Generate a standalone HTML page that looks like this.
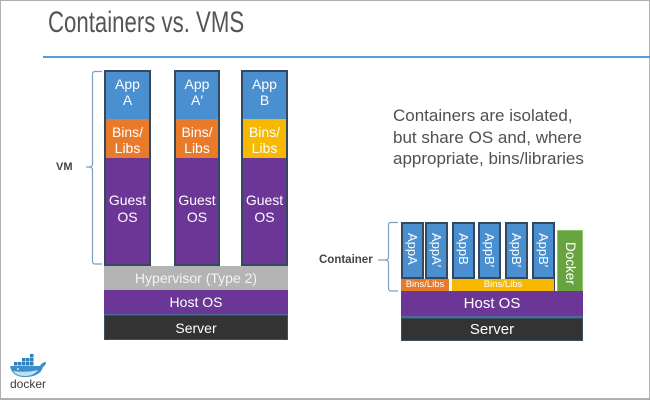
<!DOCTYPE html>
<html>
<head>
<meta charset="utf-8">
<style>
  html,body{margin:0;padding:0;}
  body{width:650px;height:400px;position:relative;overflow:hidden;background:#fff;font-family:"Liberation Sans",sans-serif;}
  .frame{position:absolute;left:0;top:0;width:650px;height:400px;box-sizing:border-box;border:1px solid #b0b0b0;border-bottom:2px solid #b0b0b0;}
  .abs{position:absolute;}
  .title{position:absolute;left:48px;top:8px;font-size:30px;line-height:30px;color:#555;white-space:nowrap;transform:scaleX(0.74);transform-origin:0 0;}
  .rule{position:absolute;left:43px;top:56px;width:607px;height:2px;background:#5b9bd5;}
  .col{position:absolute;top:70px;height:196px;box-sizing:border-box;border:2px solid #34495e;background:#6b3695;}
  .seg{position:absolute;left:0;right:0;}
  .blue{background:#4a90d0;}
  .orange{background:#e87a2a;}
  .yellow{background:#f6b800;}
  .purple{background:#6b3695;}
  .lbl{position:absolute;color:#fff;font-size:14px;line-height:16px;text-align:center;white-space:nowrap;}
  .bar{position:absolute;color:#fff;font-size:14px;text-align:center;white-space:nowrap;box-sizing:border-box;}
  .para{position:absolute;left:393px;top:105px;font-size:17px;line-height:21.5px;color:#505050;white-space:nowrap;}
  .app{position:absolute;top:222px;height:57px;width:23px;box-sizing:border-box;border:2px solid #34495e;background:#4a90d0;}
  .vt{position:absolute;writing-mode:vertical-rl;color:#fff;font-size:13px;line-height:13px;white-space:nowrap;}
  .side{position:absolute;font-weight:bold;color:#444;white-space:nowrap;}
</style>
</head>
<body>
<div class="frame"></div>

<div class="title">Containers vs. VMS</div>
<div class="rule"></div>

<!-- VM bracket -->
<svg class="abs" style="left:0;top:0" width="650" height="400">
  <path d="M102,71.5 H95 Q92.5,71.5 92.5,74 V164 Q92.5,167 89,167 H86 M89,167 Q92.5,167 92.5,170 V261 Q92.5,264 95,264 H102" fill="none" stroke="#7f9fbf" stroke-width="1.2"/>
  <path d="M398,222.5 H391 Q388.5,222.5 388.5,225 V257 Q388.5,260 385,260 H378 M385,260 Q388.5,260 388.5,263 V288 Q388.5,291 391,291 H398" fill="none" stroke="#7f9fbf" stroke-width="1.2"/>
</svg>
<div class="side" style="left:56px;top:160px;font-size:11px;line-height:14px;">VM</div>
<div class="side" style="left:319px;top:253px;font-size:11.5px;line-height:14px;">Container</div>

<!-- VM columns -->
<div class="col" style="left:104px;width:47px;">
  <div class="seg blue" style="top:0;height:47px;"></div>
  <div class="seg orange" style="top:47px;height:39px;"></div>
  <div class="seg purple" style="top:86px;height:106px;"></div>
</div>
<div class="col" style="left:174px;width:46px;">
  <div class="seg blue" style="top:0;height:47px;"></div>
  <div class="seg orange" style="top:47px;height:39px;"></div>
  <div class="seg purple" style="top:86px;height:106px;"></div>
</div>
<div class="col" style="left:241px;width:47px;">
  <div class="seg blue" style="top:0;height:47px;"></div>
  <div class="seg yellow" style="top:47px;height:39px;"></div>
  <div class="seg purple" style="top:86px;height:106px;"></div>
</div>

<!-- VM labels -->
<div class="lbl" style="left:104px;width:47px;top:76px;">App<br>A</div>
<div class="lbl" style="left:104px;width:47px;top:124px;">Bins/<br>Libs</div>
<div class="lbl" style="left:104px;width:47px;top:192px;line-height:17px;">Guest<br>OS</div>

<div class="lbl" style="left:174px;width:46px;top:76px;">App<br>A′</div>
<div class="lbl" style="left:174px;width:46px;top:124px;">Bins/<br>Libs</div>
<div class="lbl" style="left:174px;width:46px;top:192px;line-height:17px;">Guest<br>OS</div>

<div class="lbl" style="left:241px;width:47px;top:76px;">App<br>B</div>
<div class="lbl" style="left:241px;width:47px;top:124px;">Bins/<br>Libs</div>
<div class="lbl" style="left:241px;width:47px;top:192px;line-height:17px;">Guest<br>OS</div>

<!-- VM base layers -->
<div class="bar" style="left:104px;top:266px;width:184px;height:24px;line-height:24px;background:#b4b4b4;color:#f4f4f4;">Hypervisor (Type 2)</div>
<div class="bar" style="left:104px;top:290px;width:184px;height:25px;line-height:24px;background:#6b3695;border-bottom:1px solid #4a6a9a;">Host OS</div>
<div class="bar" style="left:104px;top:315px;width:184px;height:25px;line-height:24px;background:#333;border:1px solid #3c4f63;">Server</div>

<!-- Right paragraph -->
<div class="para">Containers are isolated,<br>but share OS and, where<br>appropriate, bins/libraries</div>

<!-- Containers -->
<div class="app" style="left:401px;"></div>
<div class="app" style="left:425px;"></div>
<div class="app" style="left:452px;"></div>
<div class="app" style="left:478px;"></div>
<div class="app" style="left:505px;"></div>
<div class="app" style="left:532px;"></div>

<div class="vt" style="left:406px;top:233px;">AppA</div>
<div class="vt" style="left:430px;top:233px;">AppA′</div>
<div class="vt" style="left:457px;top:233px;">AppB</div>
<div class="vt" style="left:483px;top:233px;">AppB′</div>
<div class="vt" style="left:510px;top:233px;">AppB′</div>
<div class="vt" style="left:537px;top:233px;">AppB′</div>

<div class="bar" style="left:401px;top:279px;width:48px;height:12px;line-height:12px;font-size:9.5px;background:#e87a2a;">Bins/Libs</div>
<div class="bar" style="left:452px;top:279px;width:103px;height:12px;line-height:11px;font-size:9.5px;background:#f6b800;border-right:1px solid #34495e;">Bins/Libs</div>

<div class="abs" style="left:557px;top:230px;width:26px;height:62px;box-sizing:border-box;background:#67a33e;border:1px solid #8fc36b;"></div>
<div class="vt" style="left:563px;top:242px;font-size:13.5px;line-height:14px;">Docker</div>

<div class="bar" style="left:401px;top:291px;width:182px;height:25px;line-height:25px;font-size:15px;background:#6b3695;">Host OS</div>
<div class="abs" style="left:401px;top:316px;width:182px;height:2px;background:#4a6a9a;"></div>
<div class="bar" style="left:401px;top:318px;width:182px;height:23px;line-height:22px;font-size:15px;background:#333;border:1px solid #3c4f63;">Server</div>

<!-- Docker logo -->
<svg class="abs" style="left:0;top:340px" width="60" height="60">
  <g fill="#2f7fb8">
    <rect x="30" y="14" width="3.5" height="3.5"/>
    <rect x="22" y="18" width="3.5" height="3.5"/>
    <rect x="26" y="18" width="3.5" height="3.5"/>
    <rect x="30" y="18" width="3.5" height="3.5"/>
    <rect x="14" y="22" width="3.5" height="3.5"/>
    <rect x="18" y="22" width="3.5" height="3.5"/>
    <rect x="22" y="22" width="3.5" height="3.5"/>
    <rect x="26" y="22" width="3.5" height="3.5"/>
    <rect x="30" y="22" width="3.5" height="3.5"/>
  </g>
  <path d="M10,26 H40 Q42,22 46,22 Q46,25 43,27 Q40,37 25,37 Q12,37 10,26 Z" fill="#3b8fca"/>
  <path d="M13,31 Q25,33 38,30 Q34,36 25,36 Q16,36 13,31 Z" fill="#bfe0f2"/>
  <circle cx="18" cy="29" r="0.9" fill="#fff"/>
</svg>
<div class="abs" style="left:10px;top:377px;font-size:12px;line-height:14px;color:#3a3a3a;">docker</div>

</body>
</html>
